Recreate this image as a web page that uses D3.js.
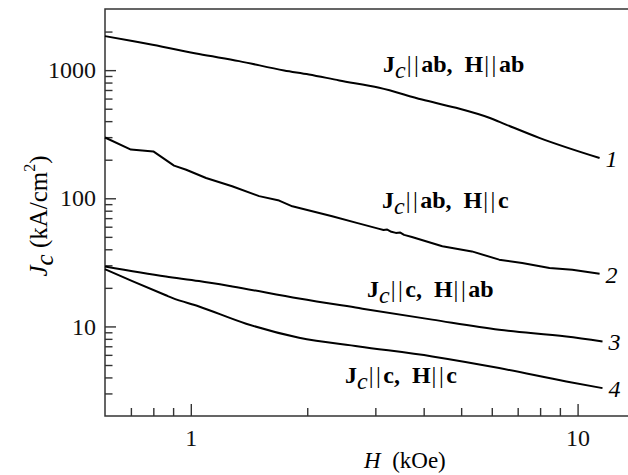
<!DOCTYPE html>
<html>
<head>
<meta charset="utf-8">
<script src="https://cdn.jsdelivr.net/npm/d3@7"></script>
<style>
  body { margin: 0; background: #fff; }
  svg text { font-family: "Liberation Serif", "Times New Roman", Times, serif; white-space: pre; }
</style>
</head>
<body>
<svg width="628" height="475"></svg>
<script>
// data: H in kOe, Jc in kA/cm^2
const h1 = [0.6, 0.706, 0.796, 1.05, 1.333, 1.743, 2.02, 2.42, 3.07, 3.96, 4.85, 5.91, 6.53, 7.96, 11.4];
const j1 = [1843, 1685, 1579, 1334, 1176, 995, 926, 831, 729, 590, 508, 425, 376, 296, 206];

const h2 = [0.6, 0.70, 0.80, 0.905, 0.973, 1.095, 1.279, 1.502, 1.692, 1.83, 2.148, 2.32, 2.7, 3.07, 3.15, 3.22, 3.3, 3.39, 3.48, 3.56, 3.73, 4.47, 5.33, 6.27, 7.19, 8.46, 9.69, 11.4];
const j2 = [298, 240, 232, 180, 167, 144, 124, 104, 96, 86.6, 76.9, 72.3, 64, 57.7, 56.5, 57.0, 54.8, 53.7, 54.0, 51.8, 49.9, 42.2, 38.5, 33.2, 31.3, 28.6, 27.7, 25.8];

const h3 = [0.6, 0.862, 1.05, 1.28, 1.905, 2.72, 4.21, 6.27, 9.35, 11.6];
const j3 = [29.3, 24.5, 22.6, 20.5, 16.5, 13.9, 11.3, 9.42, 8.35, 7.64];

const h4 = [0.6, 0.706, 0.862, 0.895, 1.05, 1.39, 1.905, 2.72, 4.21, 6.27, 9.35, 11.6];
const j4 = [28.0, 22.6, 17.5, 16.7, 14.3, 10.5, 8.16, 6.98, 5.83, 4.73, 3.72, 3.30];

const curveNames = ["1", "2", "3", "4"];
const xMajor = [1, 10];
const xMinor = [0.7, 0.8, 0.9, 2, 3, 4, 5, 6, 7, 8, 9];
const yMajor = [10, 100, 1000];
const yMinor = [3, 4, 5, 6, 7, 8, 9, 20, 30, 40, 50, 60, 70, 80, 90,
  200, 300, 400, 500, 600, 700, 800, 900, 2000];

var svg = d3.select("svg"),
  mLeft = 105,
  mRight = 628,
  mTop = 9,
  mBottom = 416;

var x = d3.scaleLog().domain([0.6, 13.5]).range([mLeft, mRight]);
var y = d3.scaleLog().domain([2, 3000]).range([mBottom, mTop]);

var axisColor = "#333";

// ===========================================================================
// AXES
// ===========================================================================
function styleAxis(g) {
  g.attr("font-family", null).attr("font-size", null);
  g.select(".domain").remove();
  g.selectAll(".tick line").attr("stroke", axisColor).attr("stroke-width", 1.4);
  g.selectAll(".tick text").attr("fill", "#111").style("font-size", "24px");
}

svg.append("g")
  .attr("transform", "translate(0," + mBottom + ")")
  .call(d3.axisBottom(x).tickValues(xMajor).tickSize(-12).tickPadding(13).tickFormat(d3.format("d")))
  .call(styleAxis);

svg.append("g")
  .attr("transform", "translate(0," + mBottom + ")")
  .call(d3.axisBottom(x).tickValues(xMinor).tickSize(-8).tickFormat(""))
  .call(styleAxis);

svg.append("g")
  .attr("transform", "translate(" + mLeft + ",0)")
  .call(d3.axisLeft(y).tickValues(yMajor).tickSize(-11).tickPadding(9).tickFormat(d3.format("d")))
  .call(styleAxis);

svg.append("g")
  .attr("transform", "translate(" + mLeft + ",0)")
  .call(d3.axisLeft(y).tickValues(yMinor).tickSize(-7.5).tickFormat(""))
  .call(styleAxis);

// frame: left, bottom, top
svg.append("path")
  .attr("d", "M" + mRight + "," + mTop + "H" + mLeft + "V" + mBottom + "H" + mRight)
  .attr("fill", "none")
  .attr("stroke", axisColor)
  .attr("stroke-width", 1.5);

// ===========================================================================
// CURVES
// ===========================================================================
var series = [[h1, j1], [h2, j2], [h3, j3], [h4, j4]];
// curve 2 has a kinked, noisy trace: keep it straight-segmented
var smooth = [true, false, true, true];

series.forEach((s, k) => {
  var pts = s[0].map((h, i) => [h, s[1][i]]);
  var line = d3.line()
    .curve(smooth[k] ? d3.curveMonotoneX : d3.curveLinear)
    .x((d) => x(d[0]))
    .y((d) => y(d[1]));

  svg.append("path")
    .datum(pts)
    .attr("d", line)
    .attr("fill", "none")
    .attr("stroke", "#000")
    .attr("stroke-width", 2)
    .attr("stroke-linejoin", "round");

  var last = pts[pts.length - 1];
  svg.append("text")
    .attr("x", x(last[0]) + 6)
    .attr("y", y(last[1]) + 9)
    .style("font-size", "24px")
    .style("font-style", "italic")
    .text(curveNames[k]);
});

// ===========================================================================
// LABELS
// ===========================================================================
var labels = [
  { a: "ab", b: "ab", x: 383, y: 72 },
  { a: "ab", b: "c", x: 382, y: 208 },
  { a: "c", b: "ab", x: 367, y: 297 },
  { a: "c", b: "c", x: 345, y: 383 }
];

labels.forEach((l) => {
  var t = svg.append("text")
    .attr("x", l.x)
    .attr("y", l.y)
    .style("font-size", "24px")
    .style("font-weight", "bold");
  t.append("tspan").text("J");
  t.append("tspan").attr("dy", 6).style("font-style", "italic").style("font-weight", "normal").text("c");
  t.append("tspan").attr("dy", -6).style("font-weight", "normal").attr("dx", 1).style("letter-spacing", "2.5px").text("||");
  t.append("tspan").text(l.a + ",  H");
  t.append("tspan").style("font-weight", "normal").attr("dx", 1).style("letter-spacing", "2.5px").text("||");
  t.append("tspan").text(l.b);
});

// y title
var yt = svg.append("text")
  .attr("transform", "translate(47,216) rotate(-90)")
  .attr("text-anchor", "middle")
  .style("font-size", "25px");
yt.append("tspan").style("font-style", "italic").text("J");
yt.append("tspan").attr("dy", 6).style("font-style", "italic").text("c");
yt.append("tspan").attr("dy", -6).text(" (kA/cm");
yt.append("tspan").attr("dy", -12).style("font-size", "16px").text("2");
yt.append("tspan").attr("dy", 12).text(")");

// x title
var xt = svg.append("text")
  .attr("x", 364)
  .attr("y", 468)
  .style("font-size", "23px");
xt.append("tspan").style("font-style", "italic").text("H");
xt.append("tspan").text("  (kOe)");
</script>
</body>
</html>
